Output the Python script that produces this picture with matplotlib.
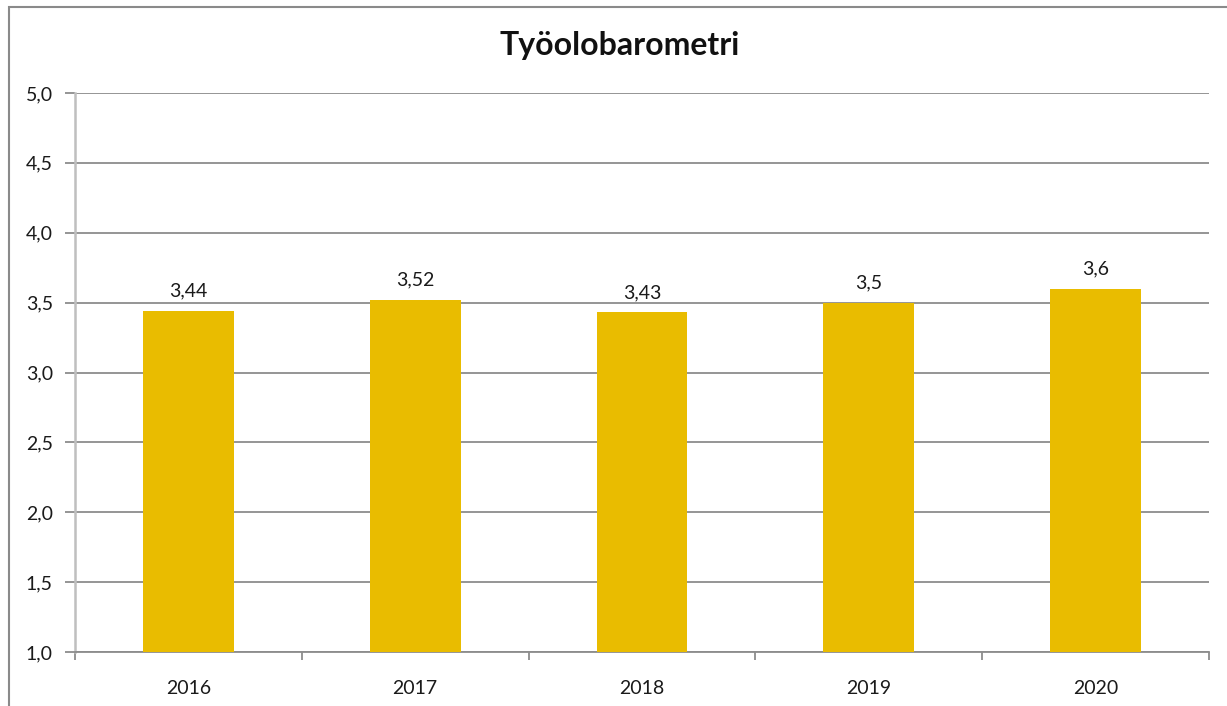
import matplotlib
matplotlib.use("Agg")
import matplotlib.pyplot as plt
from matplotlib.patches import Rectangle
from matplotlib.ticker import FuncFormatter, MultipleLocator

# data
years = ["2016", "2017", "2018", "2019", "2020"]
scores = [3.44, 3.52, 3.43, 3.5, 3.6]
score_labels = ["3,44", "3,52", "3,43", "3,5", "3,6"]

plt.rcParams['font.family'] = ['Lato', 'DejaVu Sans']

fig = plt.figure(figsize=(12.27, 7.06), dpi=100)
ax = fig.add_axes([75/1227, 54/706, (1209-75)/1227, (652-93)/706])

# outer frame (only left and top are visible in the picture)
fig.patches.append(Rectangle((8.5/1227, -0.1), 1.2, (699.5/706) + 0.1,
                             transform=fig.transFigure, fill=False,
                             edgecolor="#8a8a8a", linewidth=1.5))

x = range(len(years))
ax.bar(x, scores, width=0.4, color="#E9BC00", zorder=3)

for i, v in enumerate(scores):
    ax.text(i, v + 0.08, score_labels[i], ha="center", va="bottom",
            fontsize=14, color="#1a1a1a")

ax.set_xlim(-0.5, len(years) - 0.5)
ax.set_ylim(1.0, 5.0)
ax.yaxis.set_major_locator(MultipleLocator(0.5))
ax.yaxis.set_major_formatter(FuncFormatter(lambda v, p: f"{v:.1f}".replace(".", ",")))
ax.grid(axis="y", color="#8c8c8c", linewidth=1.3, zorder=0)

ax.set_xticks(list(x))
ax.set_xticklabels(years)
ax.set_xticks([i + 0.5 for i in range(-1, len(years))], minor=True)
ax.tick_params(axis="x", which="major", length=0, pad=20, labelsize=14, labelcolor="#1a1a1a")
ax.tick_params(axis="x", which="minor", length=6, color="#8c8c8c", width=1.3)
ax.tick_params(axis="y", length=7, color="#8c8c8c", width=1.3, pad=9,
               labelsize=14, labelcolor="#1a1a1a")

for s in ["top", "right"]:
    ax.spines[s].set_visible(False)
ax.spines["left"].set_color("#bfbfbf")
ax.spines["left"].set_linewidth(1.8)
ax.spines["bottom"].set_color("#8c8c8c")
ax.spines["bottom"].set_linewidth(1.3)

fig.text(620/1227, 1 - 46/706, "Työolobarometri", ha="center", va="center",
         fontsize=23, fontweight="bold", color="#111111")

fig.savefig("out.png", dpi=100)
